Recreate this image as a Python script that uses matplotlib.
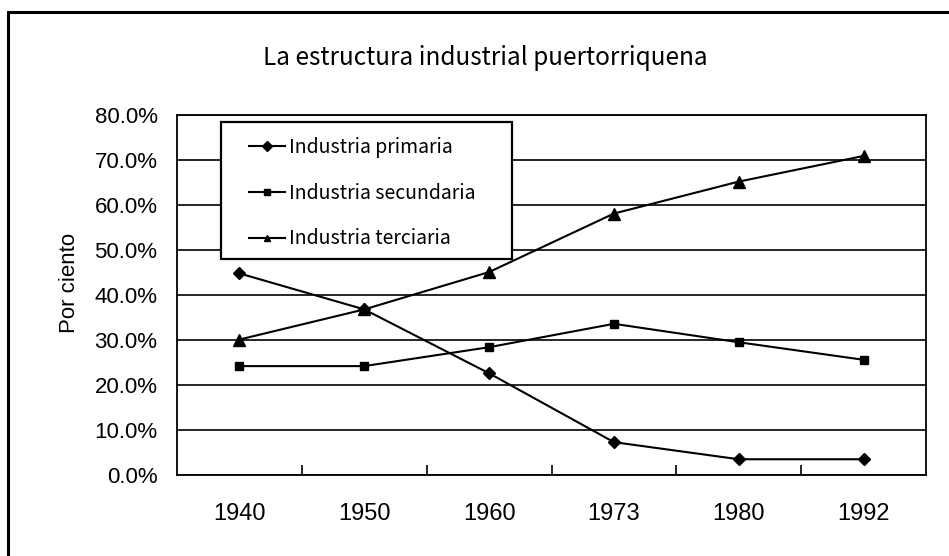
import matplotlib
matplotlib.use('Agg')
import matplotlib.pyplot as plt
from matplotlib.patches import Rectangle
from matplotlib.ticker import FuncFormatter, FixedLocator

years = ['1940', '1950', '1960', '1973', '1980', '1992']
primaria = [44.8, 36.8, 22.6, 7.3, 3.5, 3.5]
secundaria = [24.2, 24.2, 28.4, 33.6, 29.5, 25.6]
terciaria = [30.1, 36.8, 45.1, 58.1, 65.2, 70.9]

W, H = 949, 556
fig = plt.figure(figsize=(W / 100, H / 100), dpi=100)
ax = fig.add_axes([177 / W, (H - 475) / H, 749 / W, 360 / H])

x = range(len(years))
ax.plot(x, primaria, color='black', lw=1.5, marker='D', ms=6, label='Industria primaria')
ax.plot(x, secundaria, color='black', lw=1.5, marker='s', ms=6, label='Industria secundaria')
ax.plot(x, terciaria, color='black', lw=1.5, marker='^', ms=8, label='Industria terciaria')

ax.set_xlim(-0.5, len(years) - 0.5)
ax.set_ylim(0, 80)
ax.set_yticks(range(0, 81, 10))
ax.yaxis.set_major_formatter(FuncFormatter(lambda v, p: f'{v:.1f}%'))
ax.grid(axis='y', color='black', lw=1.2)
ax.set_axisbelow(True)

ax.set_xticks(list(x))
ax.set_xticklabels(years)
ax.xaxis.set_minor_locator(FixedLocator([i + 0.5 for i in range(len(years) - 1)]))
ax.tick_params(axis='x', which='major', length=0, pad=20, labelsize=17)
ax.tick_params(axis='x', which='minor', direction='in', length=7, width=1.2)
ax.tick_params(axis='y', length=0, pad=14, labelsize=16)
for lbl in ax.get_xticklabels() + ax.get_yticklabels():
    lbl.set_family('Liberation Sans')
for s in ax.spines.values():
    s.set_linewidth(1.3)

ax.set_ylabel('Por ciento', fontsize=16, family='Liberation Sans')
ax.yaxis.set_label_coords(-0.13, 0.533)

# legend box drawn separately so the padding can match the original
box = Rectangle((221 / W, 1 - 259 / H), 291 / W, 137 / H, transform=fig.transFigure,
                facecolor='white', edgecolor='black', lw=1.6, zorder=4.9, clip_on=False)
ax.add_patch(box)
leg = ax.legend(loc='upper left', bbox_to_anchor=((249 - 177) / 749, (475 - 137) / 360),
                prop={'family': 'Noto Sans CJK JP', 'size': 14}, frameon=False,
                labelspacing=1.27, handlelength=1.85, handletextpad=0.2,
                borderpad=0, borderaxespad=0)
leg.set_zorder(5)
for h in leg.legend_handles:
    h.set_markersize(5)

fig.text(485 / W, 1 - 58 / H, 'La estructura industrial puertorriquena', ha='center', va='center',
         fontsize=17.5, family='Noto Sans CJK JP')

fig.patches.append(Rectangle((8 / W, -0.1), 1.2, 1.1 - 12 / H, transform=fig.transFigure,
                             fill=False, edgecolor='black', lw=2.2, clip_on=False))

fig.savefig('out.png', dpi=100)
